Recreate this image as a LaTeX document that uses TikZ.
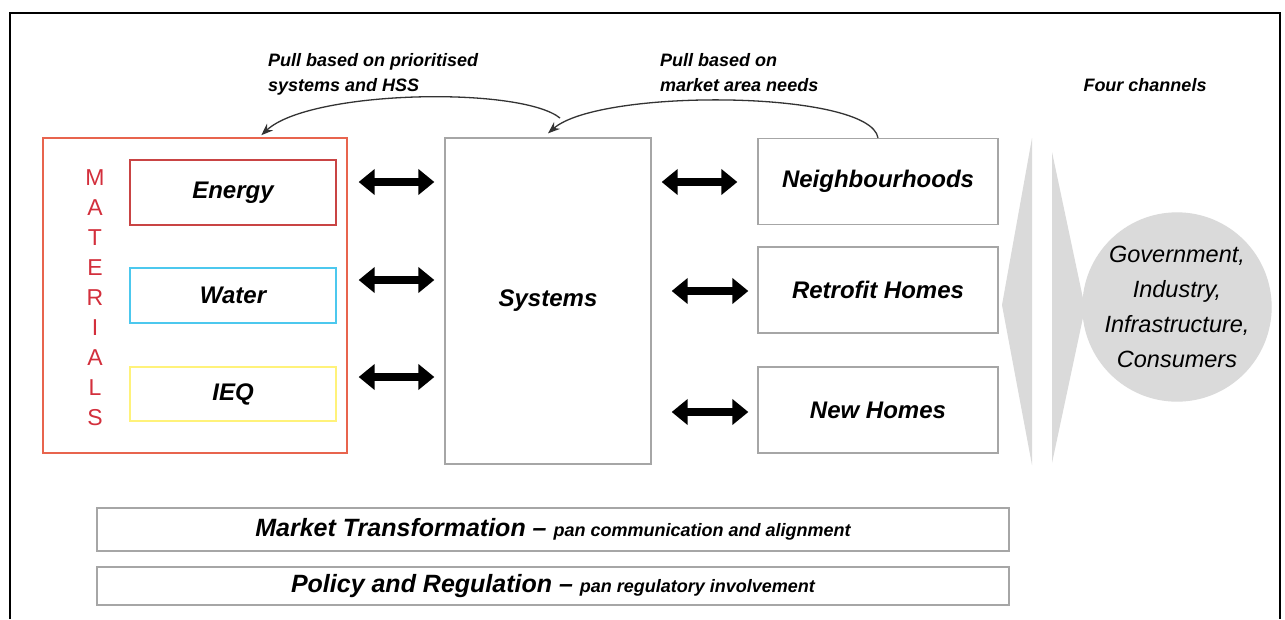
\documentclass[tikz,border=0pt]{standalone}
\usepackage{fontspec}
\setmainfont{Liberation Sans}
\usetikzlibrary{arrows.meta,calc}
\definecolor{matred}{HTML}{E8644E}
\definecolor{energyred}{HTML}{C94444}
\definecolor{watercyan}{HTML}{4CC8EE}
\definecolor{ieqyellow}{HTML}{FFF27A}
\definecolor{lettred}{HTML}{D32F3C}
\definecolor{boxgray}{HTML}{A6A6A6}
\definecolor{chgray}{HTML}{DADADA}
\newcommand{\bigtxt}{\fontsize{25}{28}\selectfont\bfseries\itshape}
\newcommand{\smalltxt}{\fontsize{18}{20}\selectfont\bfseries\itshape}
\begin{document}
\begin{tikzpicture}[x=1pt,y=1pt,
  box/.style={draw=boxgray, line width=1.3pt, inner sep=0pt, fill=white,
    font=\fontsize{24}{28}\selectfont\bfseries\itshape},
  matbox/.style={box, minimum width=206pt},
  homebox/.style={box, minimum width=240pt, minimum height=86pt},
  barbox/.style={draw=boxgray, line width=1.3pt, inner sep=0pt, minimum width=912pt},
  dbl/.style={line width=8.5pt, {Triangle[length=16pt,width=25pt]}-{Triangle[length=16pt,width=25pt]}},
  pull/.style={draw=black!80, line width=1.3pt, -{Stealth[length=12pt,width=9pt]}},
  lbl/.style={font=\fontsize{18}{25}\selectfont\bfseries\itshape, align=left, inner sep=0pt}
]
\useasboundingbox (0,0) rectangle (1285,-619);
\fill[white] (0,0) rectangle (1285,-619);
% frame
\draw[line width=2pt] (10,-619) -- (10,-13) -- (1280,-13) -- (1280,-619);

% materials group
\node[draw=matred, line width=1.5pt, minimum width=304pt, minimum height=315pt, inner sep=0pt] (materials) at (195,-295.5) {};
\node[font=\fontsize{23}{30}\selectfont, text=lettred, align=center, inner sep=0pt] (letters) at (95,-298)
  {M\\A\\T\\E\\R\\I\\A\\L\\S};
\node[matbox, draw=energyred, minimum height=65pt] (energy) at (233,-192.5) {Energy};
\node[matbox, draw=watercyan, minimum height=55pt] (water) at (233,-295.5) {Water};
\node[matbox, draw=ieqyellow, minimum height=54pt] (ieq) at (233,-394) {IEQ};

% systems
\node[box, minimum width=206pt, minimum height=326pt] (systems) at (548,-301) {Systems};

% homes
\node[homebox] (neigh) at (878,-181.5) {Neighbourhoods};
\node[homebox] (retro) at (878,-290) {Retrofit Homes};
\node[homebox] (newh) at (878,-410) {New Homes};

% double arrows
\draw[dbl] ($(energy.east)+(22,10.5)$) -- ($(systems.west |- energy.east)+(-10,10.5)$);
\draw[dbl] ($(water.east)+(22,15.5)$) -- ($(systems.west |- water.east)+(-10,15.5)$);
\draw[dbl] ($(ieq.east)+(22,17)$) -- ($(systems.west |- ieq.east)+(-10,17)$);
\draw[dbl] ($(systems.east |- neigh.west)+(10,-0.5)$) -- ($(neigh.west)+(-20,-0.5)$);
\draw[dbl] ($(systems.east |- retro.west)+(20,-1)$) -- ($(retro.west)+(-9,-1)$);
\draw[dbl] ($(systems.east |- newh.west)+(20,-2)$) -- ($(newh.west)+(-9,-2)$);

% pull arrows
\coordinate (sysout) at (560,-118);
\draw[pull] (sysout) .. controls (520,-86) and (310,-90) .. ($(materials.north west)+(219,2)$);
\draw[pull] (neigh.north) .. controls (870,-90) and (600,-88) .. ($(systems.north)+(0,4)$);
\node[lbl, anchor=north west] (pulla) at (268,-53) {Pull based on prioritised\\systems and HSS};
\node[lbl, anchor=north west] (pullb) at (660,-53) {Pull based on\\market area needs};
\node[lbl] (four) at (1145,-85) {Four channels};

% channels
\fill[chgray] (1032,-138) -- (1002,-305) -- (1032,-465) -- cycle;
\fill[chgray] (1052,-152) -- (1085,-308) -- (1052,-463) -- cycle;
\node[circle, fill=chgray, minimum size=186pt, inner sep=0pt, align=center,
  font=\fontsize{23.5}{35}\selectfont\itshape] (stake) at (1177,-307)
  {Government,\\Industry,\\Infrastructure,\\Consumers};

% bottom bars
\node[barbox, minimum height=43pt] (market) at (553,-529.5)
  {\raisebox{-3pt}{\bigtxt Market Transformation – \smalltxt pan communication and alignment}};
\node[barbox, minimum height=38pt] (policy) at (553,-586)
  {\raisebox{-3pt}{\bigtxt Policy and Regulation – \smalltxt pan regulatory involvement}};
\end{tikzpicture}
\end{document}
